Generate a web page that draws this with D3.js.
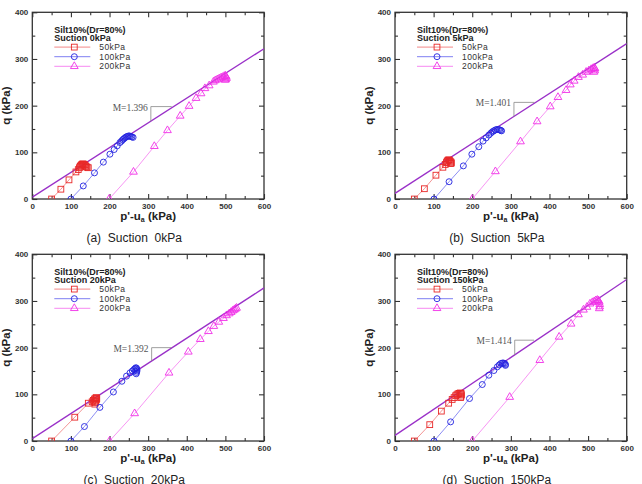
<!DOCTYPE html>
<html>
<head>
<meta charset="utf-8">
<script src="https://cdn.jsdelivr.net/npm/d3@7"></script>
<style>
  body { margin: 0; background: #fff; }
  svg { display: block; }
</style>
</head>
<body>
<svg width="642" height="484"></svg>
<script>
// DATA  (p'-ua, q) pairs
const series = ["50kPa", "100kPa", "200kPa"];
const suctions = ["0kPa", "5kPa", "20kPa", "150kPa"];
const captions = ["(a)", "(b)", "(c)", "(d)"];
const mValues = ["1.396", "1.401", "1.392", "1.414"];
const xTicks = [0, 100, 200, 300, 400, 500, 600];
const yTicks = [0, 100, 200, 300, 400];

const a50 = [[50,0],[74,21],[95,41],[113,58],[119,63],[122,67],[124,70],[126,72],[128,74],[130,75],[132,75],[134,74],[136,73],[138,71],[140,69],[142,68],[145,67]];
const a100 = [[100,0],[132,28],[161,56],[184,79],[201,96],[212,106],[220,114],[227,121],[231,124],[234,127],[237,129],[240,131],[243,133],[246,134],[249,135],[252,135],[255,134],[258,133],[261,132]];
const a200 = [[199,0],[262,58],[316,113],[350,147],[383,178],[406,199],[424,216],[437,226],[447,237],[458,243],[469,251],[474,254],[479,256],[484,258],[489,260],[493,261],[497,263],[500,264],[502,262],[503,259],[501,256],[499,255]];

const b50 = [[50,0],[76,22],[106,51],[124,68],[130,74],[133,78],[135,81],[137,83],[139,84],[141,83],[143,81],[145,79],[146,77],[144,76]];
const b100 = [[101,0],[140,37],[177,71],[199,96],[217,112],[228,124],[236,131],[243,137],[248,141],[252,144],[256,146],[260,148],[264,149],[268,149],[271,148],[274,147],[276,146]];
const b200 = [[200,0],[260,59],[325,123],[368,166],[402,198],[422,218],[443,233],[454,245],[464,253],[475,261],[486,266],[495,272],[502,275],[508,278],[513,280],[516,281],[518,279],[517,275],[515,272]];

const c50 = [[50,0],[110,51],[145,81],[155,84],[158,87],[161,90],[164,92],[166,93],[167,91],[166,88],[164,85],[163,82],[162,79]];
const c100 = [[100,0],[135,31],[175,72],[210,105],[232,128],[244,139],[253,146],[259,150],[263,153],[266,155],[268,157],[270,156],[271,153],[271,150],[270,147],[269,144]];
const c200 = [[200,0],[265,59],[354,146],[404,191],[435,218],[456,235],[470,246],[483,255],[495,263],[503,269],[510,273],[515,276],[519,279],[523,281],[526,283],[529,285]];

const d50 = [[50,0],[90,35],[120,64],[139,81],[148,89],[153,93],[157,97],[160,99],[163,101],[166,102],[169,103],[171,102],[172,99],[171,96],[170,93]];
const d100 = [[101,0],[144,41],[193,91],[226,121],[243,141],[256,151],[265,159],[270,163],[274,166],[278,167],[281,167],[284,166],[286,164],[286,162]];
const d200 = [[200,0],[297,94],[375,173],[425,223],[456,251],[475,271],[488,281],[497,287],[505,294],[511,297],[516,299],[520,301],[524,302],[527,301],[529,298],[530,293],[530,288],[529,284]];

// failure line end points and slope-triangle corners (x of vertical, q of top, x end)
const fitLines = [[[0,4],[600,322]], [[0,12],[600,333]], [[0,5],[600,328]], [[0,12],[600,346]]];
const triangles = [[307,198,361], [308,207,361], [309,200,361], [310,216,360]];

const panelData = [[a50, a100, a200], [b50, b100, b200], [c50, c100, c200], [d50, d100, d200]];

const svg = d3.select("svg");
const pw = 231.7, ph = 186.7;
const origins = [[32.3, 12.3], [395, 12.3], [32.3, 254.3], [395, 254.3]];
const colors = ["#e82828", "#2222e0", "#f030e8"];
const lineColors = ["#f07a7a", "#7070f0", "#f57af0"];
const fitColor = "#9a30c8";
const boldFont = "'Liberation Sans', Arial, sans-serif";

const x = d3.scaleLinear().domain([0, 600]).range([0, pw]);
const y = d3.scaleLinear().domain([0, 400]).range([ph, 0]);
const line = d3.line().x(d => x(d[0])).y(d => y(d[1]));

function marker(sel, k, c) {
  if (k === 0) {
    sel.append("rect").attr("x", -2.9).attr("y", -2.9).attr("width", 5.8).attr("height", 5.8)
      .attr("fill", "none").attr("stroke", c).attr("stroke-width", 0.9);
  } else if (k === 1) {
    sel.append("circle").attr("r", 3).attr("fill", "none").attr("stroke", c).attr("stroke-width", 0.9);
  } else {
    sel.append("path").attr("d", d3.symbol(d3.symbolTriangle, 26)())
      .attr("fill", "none").attr("stroke", c).attr("stroke-width", 0.9);
  }
}

svg.append("defs").append("clipPath").attr("id", "plotclip")
  .append("rect").attr("width", pw).attr("height", ph);

panelData.forEach((sets, i) => {
  const g = svg.append("g").attr("transform", `translate(${origins[i][0]},${origins[i][1]})`);

  // AXES: major + minor ticks, all inward
  const minorX = d3.range(50, 600, 100), minorY = d3.range(50, 400, 100);
  const axes = [
    [d3.axisBottom(x), `translate(0,${ph})`, xTicks, minorX, true],
    [d3.axisTop(x), "translate(0,0)", xTicks, minorX, false],
    [d3.axisLeft(y), "translate(0,0)", yTicks, minorY, true],
    [d3.axisRight(y), `translate(${pw},0)`, yTicks, minorY, false]
  ];
  axes.forEach(([ax, tr, maj, minr, labels]) => {
    const ga = g.append("g").attr("transform", tr)
      .call(ax.tickValues(maj).tickSize(-5).tickPadding(labels ? 4 : 0).tickFormat(labels ? d3.format("d") : ""));
    ga.select(".domain").remove();
    ga.selectAll("line").attr("stroke", "#333").attr("stroke-width", 1.1);
    ga.selectAll("text").attr("font-family", boldFont).attr("font-weight", "bold")
      .attr("font-size", 8).attr("fill", "#333");
    const gm = g.append("g").attr("transform", tr)
      .call(ax.tickValues(minr).tickSize(-3).tickPadding(0).tickFormat(""));
    gm.select(".domain").remove();
    gm.selectAll("line").attr("stroke", "#333").attr("stroke-width", 1.1);
  });
  g.append("rect").attr("width", pw).attr("height", ph)
    .attr("fill", "none").attr("stroke", "#333").attr("stroke-width", 1.3);

  // FAILURE LINE
  const plot = g.append("g").attr("clip-path", "url(#plotclip)");
  plot.append("path").attr("d", line(fitLines[i]))
    .attr("fill", "none").attr("stroke", fitColor).attr("stroke-width", 1.3);

  // slope triangle + label
  const [tx, tq, tx2] = triangles[i];
  const f = fitLines[i];
  const qAt = p => f[0][1] + (f[1][1] - f[0][1]) * (p - f[0][0]) / (f[1][0] - f[0][0]);
  g.append("path")
    .attr("d", `M${x(tx)},${y(qAt(tx))}V${y(tq)}H${x(tx2)}`)
    .attr("fill", "none").attr("stroke", "#888").attr("stroke-width", 0.8);
  g.append("text").attr("x", x(tx) - 3).attr("y", y(tq) + 4)
    .attr("text-anchor", "end").attr("font-family", "'Liberation Serif', 'Times New Roman', serif")
    .attr("font-size", 9.5).attr("fill", "#555").text(`M=${mValues[i]}`);

  // SERIES
  sets.forEach((pts, k) => {
    plot.append("path").attr("d", line(pts))
      .attr("fill", "none").attr("stroke", lineColors[k]).attr("stroke-width", 0.8);
    plot.selectAll(null).data(pts).enter().append("g")
      .attr("transform", d => `translate(${x(d[0])},${y(d[1])})`)
      .each(function () { marker(d3.select(this), k, colors[k]); });
  });

  // LEGEND
  const lg = g.append("g").attr("transform", "translate(22,0)");
  lg.append("text").attr("y", 20.3).attr("font-family", boldFont).attr("font-weight", "bold")
    .attr("font-size", 9).attr("fill", "#222").text("Silt10%(Dr=80%)");
  lg.append("text").attr("y", 29).attr("font-family", boldFont).attr("font-weight", "bold")
    .attr("font-size", 9).attr("fill", "#222").text(`Suction ${suctions[i]}`);
  series.forEach((s, k) => {
    const ly = 34.8 + k * 9.6;
    lg.append("line").attr("x1", 0).attr("x2", 36).attr("y1", ly).attr("y2", ly)
      .attr("stroke", lineColors[k]).attr("stroke-width", 0.9);
    marker(lg.append("g").attr("transform", `translate(20,${ly})`), k, colors[k]);
    lg.append("text").attr("x", 45).attr("y", ly + 3).attr("font-family", boldFont)
      .attr("font-size", 8.5).attr("fill", "#333").attr("letter-spacing", 0.4).text(s);
  });

  // AXIS TITLES
  const xt = g.append("text").attr("x", pw / 2).attr("y", ph + 21)
    .attr("text-anchor", "middle").attr("font-family", boldFont).attr("font-weight", "bold")
    .attr("font-size", 11.5).attr("fill", "#222");
  xt.append("tspan").text("p'-u");
  xt.append("tspan").attr("font-size", 7).attr("dy", 2).text("a");
  xt.append("tspan").attr("dy", -2).text(" (kPa)");

  g.append("text").attr("transform", `translate(-22,${ph / 2}) rotate(-90)`)
    .attr("text-anchor", "middle").attr("font-family", boldFont).attr("font-weight", "bold")
    .attr("font-size", 11.5).attr("fill", "#222").text("q (kPa)");

  // CAPTION
  g.append("text").attr("x", pw / 2 - 14).attr("y", ph + 43)
    .attr("text-anchor", "middle").attr("font-family", boldFont)
    .attr("font-size", 12).attr("fill", "#222").attr("xml:space", "preserve")
    .text(`${captions[i]}  Suction  ${suctions[i]}`);
});
</script>
</body>
</html>
